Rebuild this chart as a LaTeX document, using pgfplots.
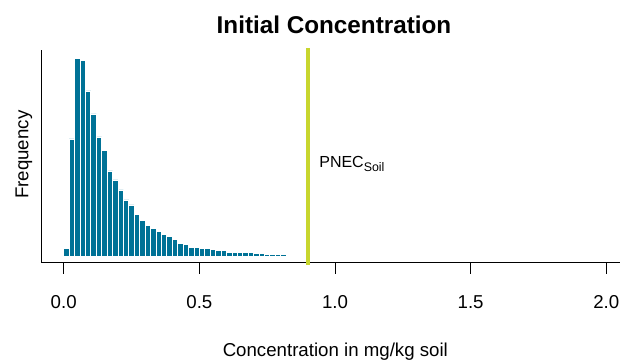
\documentclass[border=0pt]{standalone}
\usepackage{pgfplots}
\pgfplotsset{compat=1.18}
\usepackage{fontspec}
\setmainfont{Liberation Sans}
\definecolor{barblue}{RGB}{0,114,150}
\definecolor{pnec}{RGB}{200,214,46}
\begin{document}
\begin{tikzpicture}
\begin{axis}[
  at={(0,0)}, anchor=south west,
  scale only axis, width=439.5pt, height=159.5pt,
  xmin=-0.08, xmax=2.08, ymin=-20, ymax=618,
  axis x line*=bottom, axis y line*=left,
  axis line style={-, line width=0.75pt, black},
  xtick={0,0.5,1,1.5,2}, ytick=\empty,
  xticklabels={0.0,0.5,1.0,1.5,2.0},
  tick align=outside, major tick length=8.25pt,
  x tick style={black, line width=0.75pt},
  xticklabel style={font=\fontsize{14}{16}\selectfont, anchor=base, yshift=-26pt},
  clip=false,
]
\addplot[ybar interval, fill=barblue, draw=white, line width=0.6pt] coordinates {
(0.00,23) (0.02,351) (0.04,593) (0.06,586) (0.08,495) (0.10,426) (0.12,357)
(0.14,316) (0.16,255) (0.18,228) (0.20,198) (0.22,168) (0.24,153) (0.26,126)
(0.28,108) (0.30,92) (0.32,83) (0.34,73) (0.36,66) (0.38,58) (0.40,50)
(0.42,38) (0.44,35) (0.46,27) (0.48,27) (0.50,23) (0.52,23) (0.54,19)
(0.56,16) (0.58,16) (0.60,12) (0.62,12) (0.64,10) (0.66,10) (0.68,10)
(0.70,7) (0.72,7) (0.74,6) (0.76,6) (0.78,6) (0.80,6) (0.82,0)
};
\addplot[pnec, line width=3pt] coordinates {(0.9,-26) (0.9,624)};
\end{axis}
\node[anchor=base, font=\fontsize{18.2}{21}\selectfont\bfseries] at (219pt,171.5pt) {Initial Concentration};
\node[anchor=base, font=\fontsize{14}{16}\selectfont] at (220pt,-70.5pt) {Concentration in mg/kg soil};
\node[anchor=base, rotate=90, font=\fontsize{14}{16}\selectfont] at (-10.3pt,81pt) {Frequency};
\node[anchor=base west, inner sep=0pt, font=\fontsize{12}{14}\selectfont] at (207.8pt,71.3pt) {PNEC\raisebox{-0.25em}{\fontsize{9.3}{11}\selectfont Soil}};
\pgfresetboundingbox
\path (-31.5pt,-73pt) rectangle (433.5pt,197pt);
\end{tikzpicture}
\end{document}
